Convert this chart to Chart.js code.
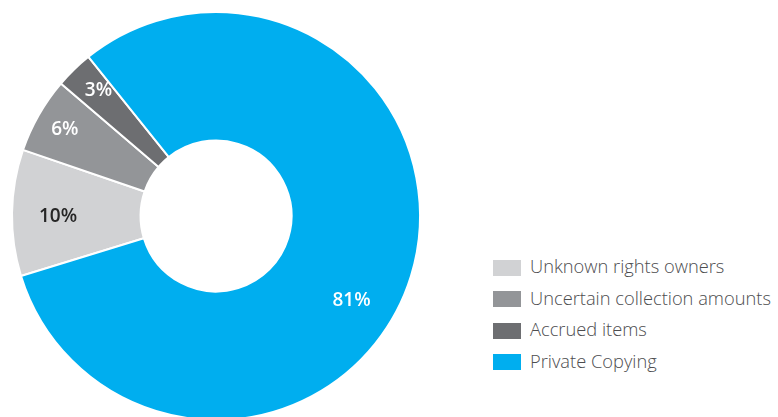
<!DOCTYPE html>
<html>
<head>
<meta charset="utf-8">
<script src="https://cdn.jsdelivr.net/npm/chart.js@4.4.0/dist/chart.umd.min.js"></script>
<style>
  html, body { margin: 0; padding: 0; background: #fff; overflow: hidden; }
  #wrap { position: relative; width: 778px; height: 417px; overflow: hidden; }
  #donut { position: absolute; left: 0; top: 0; }
  #legend { position: absolute; left: 493px; top: 252px; font-family: "Open Sans", sans-serif; font-weight: 300; font-size: 18.3px; color: #4d4d4f; }
  #legend .row { height: 31.5px; display: flex; align-items: center; white-space: nowrap; }
  #legend .row span:last-child { position: relative; top: -2px; }
  #legend .box { width: 28px; height: 16px; margin-right: 9px; }
</style>
</head>
<body>
<div id="wrap">
  <canvas id="donut" width="432" height="432"></canvas>
  <div id="legend"></div>
</div>
<script>
var labels = ["Unknown rights owners", "Uncertain collection amounts", "Accrued items", "Private Copying"];
var shares = [10, 6, 3, 81];
var colors = ["#d1d2d4", "#939598", "#6d6e71", "#00aeef"];
var labelColors = ["#262626", "#ffffff", "#ffffff", "#ffffff"];

// where each percentage sits inside its slice: radius and angle shift (deg)
var labelPlace = [
  { r: 158, shift: -1 },
  { r: 174, shift: 0 },
  { r: 172, shift: 1 },
  { r: 160, shift: 15 }
];

var sliceLabels = {
  id: 'sliceLabels',
  afterDatasetsDraw: function(chart) {
    var ctx = chart.ctx;
    var meta = chart.getDatasetMeta(0);
    ctx.save();
    ctx.font = '600 19px "Open Sans", sans-serif';
    ctx.textAlign = 'center';
    ctx.textBaseline = 'middle';
    meta.data.forEach(function(arc, i) {
      var p = arc.getProps(['x', 'y', 'startAngle', 'endAngle']);
      var a = (p.startAngle + p.endAngle) / 2 + labelPlace[i].shift * Math.PI / 180;
      var r = labelPlace[i].r;
      ctx.fillStyle = labelColors[i];
      ctx.fillText(shares[i] + '%', p.x + Math.cos(a) * r, p.y + Math.sin(a) * r);
    });
    ctx.restore();
  }
};

new Chart(document.getElementById('donut').getContext('2d'), {
  type: 'doughnut',
  data: {
    labels: labels,
    datasets: [{
      data: shares,
      backgroundColor: colors,
      borderColor: '#ffffff',
      borderWidth: 2
    }]
  },
  options: {
    responsive: false,
    animation: false,
    rotation: 252.9,
    cutout: '37%',
    layout: { padding: 11 },
    plugins: {
      legend: { display: false },
      tooltip: { enabled: false }
    }
  },
  plugins: [sliceLabels]
});

var legend = document.getElementById('legend');
labels.forEach(function(name, i) {
  var row = document.createElement('div');
  row.className = 'row';
  var box = document.createElement('span');
  box.className = 'box';
  box.style.background = colors[i];
  var txt = document.createElement('span');
  txt.textContent = name;
  row.appendChild(box);
  row.appendChild(txt);
  legend.appendChild(row);
});
</script>
</body>
</html>
